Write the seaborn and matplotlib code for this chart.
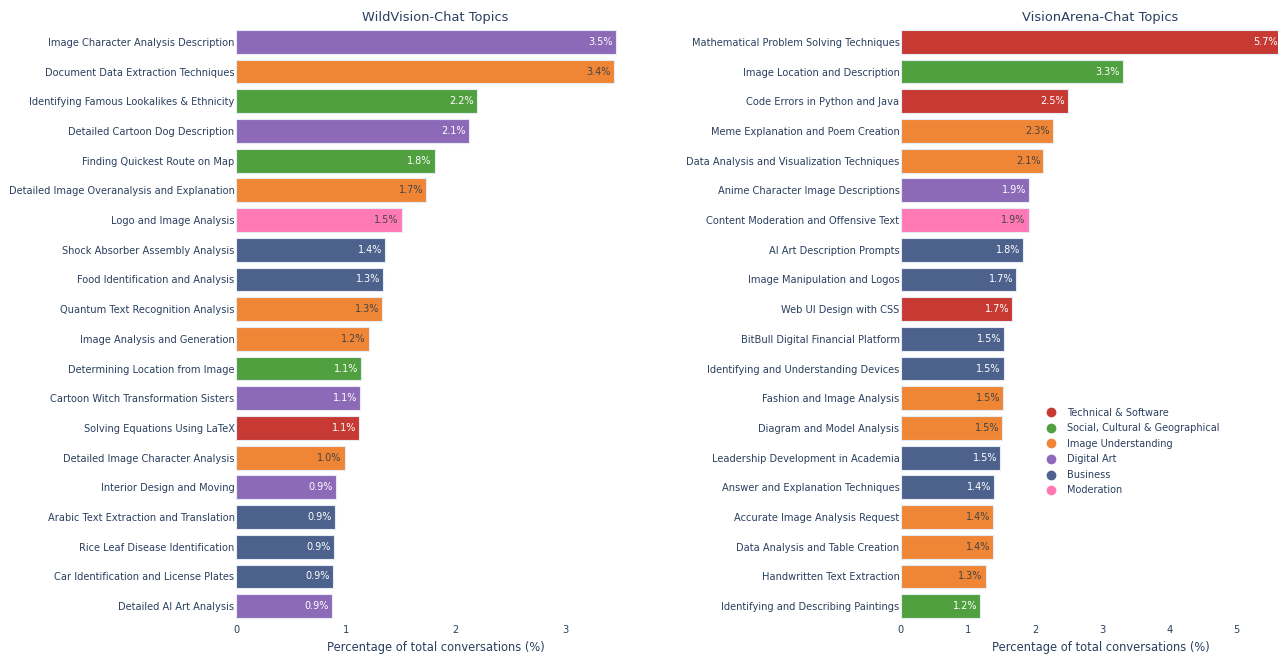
import matplotlib
matplotlib.use("Agg")
import matplotlib.pyplot as plt
from matplotlib.lines import Line2D
import pandas as pd
import seaborn as sns

sns.set_theme(style="white")
plt.rcParams['font.family'] = ['DejaVu Sans']

TEXT = '#2a3f5f'

category_colors = {
    'Technical & Software': '#C73A33',
    'Social, Cultural & Geographical': '#50A03F',
    'Image Understanding': '#EF8636',
    'Digital Art': '#8D6AB8',
    'Business': '#4C618C',
    'Moderation': '#FF7AB4',
}
dark_text_categories = ['Image Understanding', 'Moderation']

wv_topics = [
    "Image Character Analysis Description",
    "Document Data Extraction Techniques",
    "Identifying Famous Lookalikes & Ethnicity",
    "Detailed Cartoon Dog Description",
    "Finding Quickest Route on Map",
    "Detailed Image Overanalysis and Explanation",
    "Logo and Image Analysis",
    "Shock Absorber Assembly Analysis",
    "Food Identification and Analysis",
    "Quantum Text Recognition Analysis",
    "Image Analysis and Generation",
    "Determining Location from Image",
    "Cartoon Witch Transformation Sisters",
    "Solving Equations Using LaTeX",
    "Detailed Image Character Analysis",
    "Interior Design and Moving",
    "Arabic Text Extraction and Translation",
    "Rice Leaf Disease Identification",
    "Car Identification and License Plates",
    "Detailed AI Art Analysis",
]
wv_values = [3.46, 3.44, 2.19, 2.12, 1.81, 1.73, 1.51, 1.36, 1.34, 1.33,
             1.21, 1.14, 1.13, 1.12, 0.99, 0.91, 0.90, 0.89, 0.88, 0.87]
wv_categories = [
    'Digital Art', 'Image Understanding', 'Social, Cultural & Geographical',
    'Digital Art', 'Social, Cultural & Geographical', 'Image Understanding',
    'Moderation', 'Business', 'Business', 'Image Understanding',
    'Image Understanding', 'Social, Cultural & Geographical', 'Digital Art',
    'Technical & Software', 'Image Understanding', 'Digital Art',
    'Business', 'Business', 'Business', 'Digital Art',
]

va_topics = [
    "Mathematical Problem Solving Techniques",
    "Image Location and Description",
    "Code Errors in Python and Java",
    "Meme Explanation and Poem Creation",
    "Data Analysis and Visualization Techniques",
    "Anime Character Image Descriptions",
    "Content Moderation and Offensive Text",
    "AI Art Description Prompts",
    "Image Manipulation and Logos",
    "Web UI Design with CSS",
    "BitBull Digital Financial Platform",
    "Identifying and Understanding Devices",
    "Fashion and Image Analysis",
    "Diagram and Model Analysis",
    "Leadership Development in Academia",
    "Answer and Explanation Techniques",
    "Accurate Image Analysis Request",
    "Data Analysis and Table Creation",
    "Handwritten Text Extraction",
    "Identifying and Describing Paintings",
]
va_values = [5.66, 3.30, 2.48, 2.26, 2.12, 1.91, 1.90, 1.82, 1.72, 1.66,
             1.54, 1.53, 1.52, 1.51, 1.48, 1.39, 1.37, 1.37, 1.26, 1.18]
va_categories = [
    'Technical & Software', 'Social, Cultural & Geographical',
    'Technical & Software', 'Image Understanding', 'Image Understanding',
    'Digital Art', 'Moderation', 'Business', 'Business',
    'Technical & Software', 'Business', 'Business', 'Image Understanding',
    'Image Understanding', 'Business', 'Business', 'Image Understanding',
    'Image Understanding', 'Image Understanding',
    'Social, Cultural & Geographical',
]

fig = plt.figure(figsize=(12.78, 6.54), dpi=100)
# plotly-like domains; the right panel runs slightly past the canvas edge
ax1 = fig.add_axes([236 / 1278, 33 / 654, 399 / 1278, 594 / 654])
ax2 = fig.add_axes([901 / 1278, 33 / 654, 399 / 1278, 594 / 654])


def draw_panel(ax, topics, values, cats, title):
    df = pd.DataFrame({'topic': topics, 'value': values, 'cat': cats})
    palette = [category_colors[c] for c in cats]
    sns.barplot(data=df, x='value', y='topic', hue='topic', palette=palette,
                orient='h', width=0.8, legend=False, ax=ax, saturation=1,
                edgecolor='#E5ECF6', linewidth=0.8)
    for i, (v, c) in enumerate(zip(values, cats)):
        color = '#444444' if c in dark_text_categories else 'white'
        ax.annotate(f"{v:.1f}%", xy=(v, i), xytext=(-3, 0),
                    textcoords='offset pixels', ha='right', va='center',
                    fontsize=7, color=color)
    ax.set_xlim(0, max(values) * 1.05)
    ax.set_ylim(len(topics) - 0.5, -0.5)
    ax.set_title(title, fontsize=9.4, color=TEXT, pad=4)
    ax.set_xlabel("Percentage of total conversations (%)", fontsize=8.3,
                  color=TEXT, labelpad=4)
    ax.set_ylabel("")
    ax.tick_params(axis='both', length=0, labelsize=7.1, colors=TEXT)
    ax.tick_params(axis='y', pad=1)
    ax.tick_params(axis='x', pad=3)
    ax.set_xticks(range(0, int(max(values)) + 1))
    for s in ax.spines.values():
        s.set_visible(False)
    ax.grid(False)


draw_panel(ax1, wv_topics, wv_values, wv_categories, "WildVision-Chat Topics")
draw_panel(ax2, va_topics, va_values, va_categories, "VisionArena-Chat Topics")

handles = [Line2D([0], [0], marker='o', linestyle='', markersize=6,
                  markerfacecolor=col, markeredgecolor=col, label=name)
           for name, col in category_colors.items()]
leg = fig.legend(handles=handles, loc='upper left',
                 bbox_to_anchor=(1036 / 1278, 1 - 399 / 654), frameon=False,
                 fontsize=7, handletextpad=1.1, labelspacing=0.57,
                 handlelength=1.2)
for t in leg.get_texts():
    t.set_color(TEXT)

fig.savefig("out.png", dpi=100)
